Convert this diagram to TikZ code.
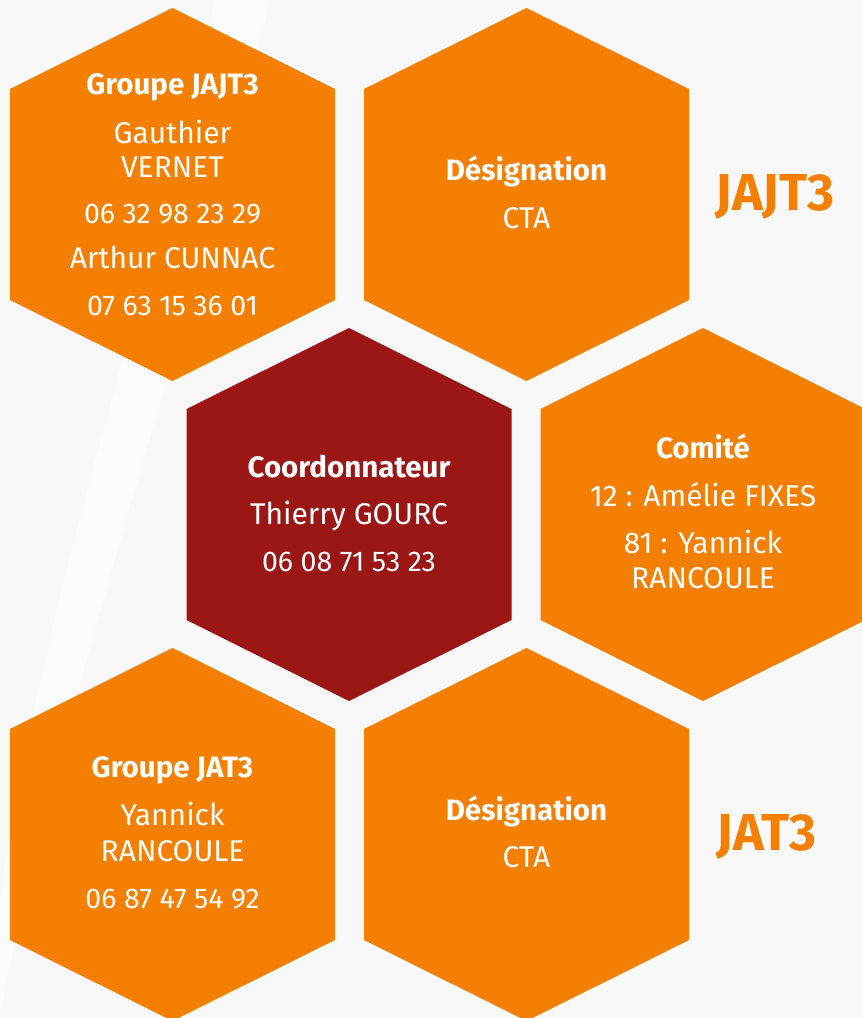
\documentclass[tikz,border=0pt]{standalone}
\usepackage{fontspec}
\setmainfont{Fira Sans}
\definecolor{hexorange}{RGB}{245,127,0}
\definecolor{hexred}{RGB}{155,23,21}
\definecolor{bggray}{RGB}{248,248,248}
\tikzset{
  hexcell/.style={fill=hexorange},
  hexcore/.style={fill=hexred},
  txt/.style={text=white, anchor=base, inner sep=0pt, font=\fontsize{30}{32}\selectfont},
  num/.style={txt, font=\fontsize{28.5}{32}\selectfont},
  head/.style={txt, font=\bfseries\fontsize{29.5}{32}\selectfont},
  big/.style={text=hexorange, anchor=base, inner sep=0pt, font=\bfseries\fontsize{52}{60}\selectfont}
}
\newcommand\hexshape[3]{%
  \fill[#3, shift={(#1,#2)}] (-162.5,-105.5) -- (0,-186.5) -- (162.5,-105.5) -- (162.5,105.5) -- (0,186.5) -- (-162.5,105.5) -- cycle;}
\begin{document}
\begin{tikzpicture}[x=1pt,y=-1pt]
\useasboundingbox (0,0) rectangle (862,1018);
\clip (0,0) rectangle (862,1018);
\fill[bggray] (0,0) rectangle (862,1018);
\fill[white, opacity=0.5] (215,0) .. controls (150,300) and (40,600) .. (0,900) -- (0,1018) .. controls (60,700) and (200,300) .. (270,0) -- cycle;
% hexagons
\hexshape{172.5}{194.5}{hexcell}
\hexshape{526.5}{194.5}{hexcell}
\hexshape{349}{514.5}{hexcore}
\hexshape{703}{514.5}{hexcell}
\hexshape{172.5}{834.5}{hexcell}
\hexshape{526.5}{834.5}{hexcell}
% hex 1
\node[head] (g1h) at (172.5,94) {Groupe JAJT3};
\node[txt] (g1a) at (172.5,143) {Gauthier};
\node[txt] (g1b) at (172.5,177) {VERNET};
\node[num] (g1c) at (172.5,223) {06 32 98 23 29};
\node[txt] (g1d) at (172.5,268) {Arthur CUNNAC};
\node[num] (g1e) at (172.5,315) {07 63 15 36 01};
% hex 2
\node[head] (d1h) at (526.5,180) {Désignation};
\node[txt] (d1a) at (526.5,228) {CTA};
\node[big] (jajt) at (775,210) {JAJT3};
% center
\node[head] (ch) at (349,477) {Coordonnateur};
\node[txt] (ca) at (349,524) {Thierry GOURC};
\node[num] (cb) at (349,571) {06 08 71 53 23};
% comite
\node[head] (kh) at (703,458) {Comité};
\node[txt] (ka) at (703,506) {12 : Amélie FIXES};
\node[txt] (kb) at (703,553) {81 : Yannick};
\node[txt] (kc) at (703,588) {RANCOULE};
% bottom left
\node[head] (g2h) at (172.5,777) {Groupe JAT3};
\node[txt] (g2a) at (172.5,825) {Yannick};
\node[txt] (g2b) at (172.5,861) {RANCOULE};
\node[num] (g2c) at (172.5,908) {06 87 47 54 92};
% bottom middle
\node[head] (d2h) at (526.5,820) {Désignation};
\node[txt] (d2a) at (526.5,867) {CTA};
\node[big] (jat) at (766.5,850) {JAT3};
\end{tikzpicture}
\end{document}
